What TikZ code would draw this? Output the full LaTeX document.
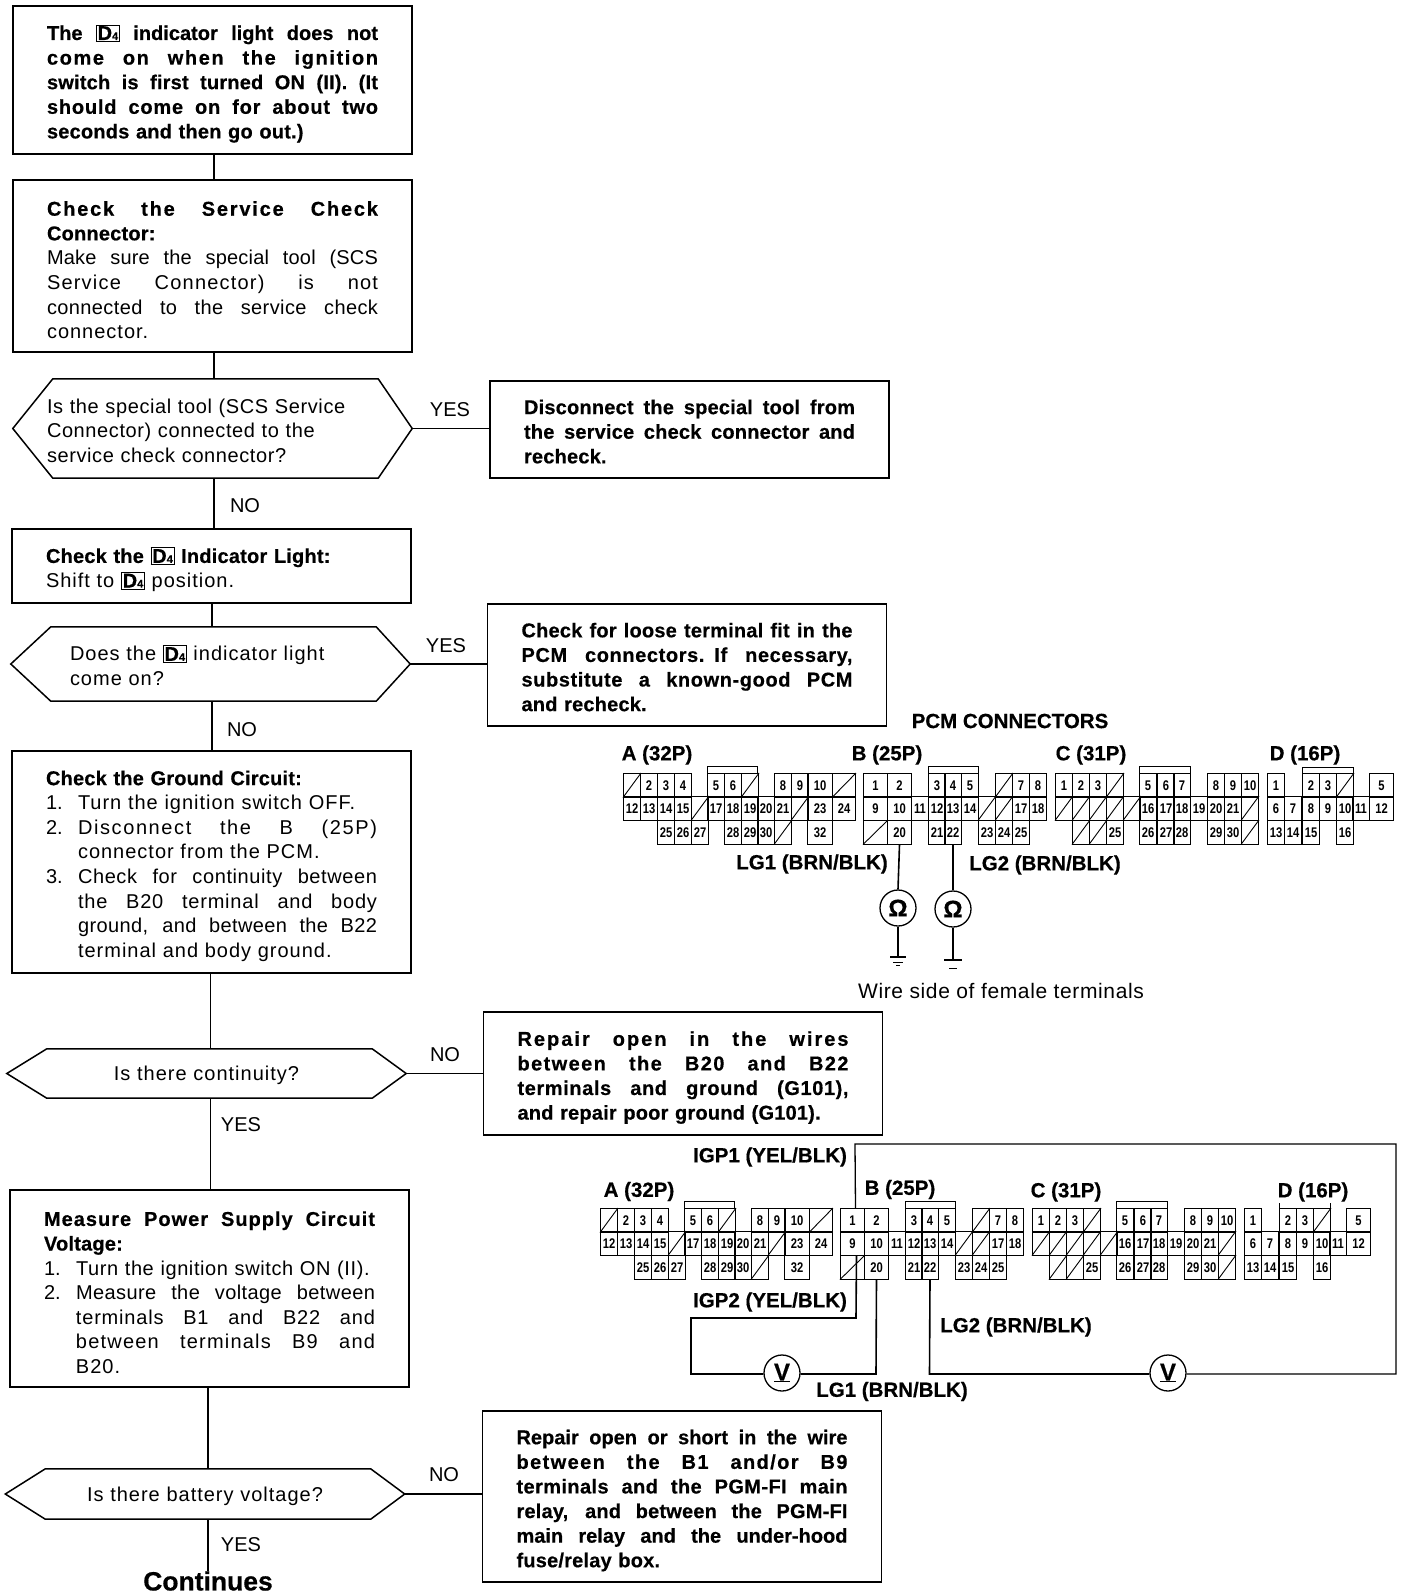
\documentclass[tikz,border=0pt]{standalone}
\usepackage{fontspec}
\setmainfont{Liberation Sans}[BoldFeatures={FakeBold=0.5}]
\newfontfamily\cellfont[FakeStretch=0.8]{Liberation Sans}
\newcommand\JL[2][0]{\hbox to\hsize{\addfontfeature{LetterSpace=#1}\spaceskip=.278em plus 1fill minus .12em\relax #2}}
\newcommand\JB[2][0]{\hbox to\hsize{\bfseries\addfontfeature{LetterSpace=#1}\spaceskip=.278em plus 1fill minus .12em\relax #2}}
\newcommand\NL[2][5]{\hbox{\addfontfeature{LetterSpace=#1}#2}}
\newcommand\NB[1]{\hbox{\bfseries\addfontfeature{LetterSpace=1}#1}}
\newcommand\JI[3][0]{\hbox to\hsize{\hbox to 32pt{#2\hfil}\addfontfeature{LetterSpace=#1}\spaceskip=.278em plus 1fill minus .12em\relax #3}}
\newcommand\NI[3][5]{\hbox{\hbox to 32pt{#2\hfil}\addfontfeature{LetterSpace=#1}#3}}
\newcommand\dfour{\smash{\setlength\fboxsep{1pt}\setlength\fboxrule{.7pt}\fbox{\bfseries D\fontsize{11}{11}\selectfont 4}}}
\newcommand\tshift{\vskip -2pt}
\newcommand\tshiftb{\vskip -6pt}
\tikzset{
 outl/.style={line width=1.5pt,line join=miter},
 fbx/.style={outl,draw,rectangle,inner xsep=34pt,inner ysep=0pt,text width=331pt,font=\fontsize{20}{24.6}\selectfont},
 dec/.style={rectangle,inner sep=0pt,minimum width=399pt,text width=331pt,font=\fontsize{20}{24.6}\selectfont},
 cell/.style={draw,line width=1pt,rectangle,inner sep=0pt,minimum height=23.5pt,anchor=north west,font=\cellfont\bfseries\fontsize{14}{14}\selectfont},
 hatch/.style={draw,line width=1pt,rectangle,inner sep=0pt,minimum height=23.5pt,anchor=north west},
 flow/.style={inner sep=0pt,font=\fontsize{20}{24}\selectfont},
 conn/.style={inner sep=0pt,font=\bfseries\fontsize{20.5}{24}\selectfont},
 meter/.style={draw,circle,line width=1.3pt,inner sep=0pt,minimum size=36pt,font=\bfseries\fontsize{24}{24}\selectfont},
 wire/.style={line width=1.6pt},
 key/.style={line width=1pt}
}
\newcommand\decision[1]{\draw[outl] (#1.west) -- ([xshift=40pt]#1.north west) -- ([xshift=-34pt]#1.north east) -- (#1.east) -- ([xshift=-34pt]#1.south east) -- ([xshift=40pt]#1.south west) -- cycle;}
\newcommand\cellrow[4]{\foreach \cx/\ct in {#4} {\node[cell,minimum width=#3] (#1\ct) at (\cx,#2) {\ct};}}
\newcommand\hatchrow[3]{\foreach \cx/\cw in {#3} {\node[hatch,minimum width=\cw] (#1h\cx r#2) at (\cx,#2) {}; \draw[line width=.9pt] (#1h\cx r#2.south west) -- (#1h\cx r#2.north east);}}
\newcommand\pcm[1]{%
 % connector A
 \hatchrow{#1a}{773}{623/17,741/17,832/23}
 \cellrow{#1a}{773}{17}{640/2,657/3,674/4,707/5,724/6,774/8,791/9}
 \cellrow{#1a}{773}{25}{807/10}
 \cellrow{#1a}{796}{17}{623/12,640/13,657/14,674/15,707/17,724/18,741/19,757/20,774/21}
 \hatchrow{#1a}{796}{691/17,791/17}
 \cellrow{#1a}{796}{25}{807/23}
 \cellrow{#1a}{796}{23}{832/24}
 \cellrow{#1a}{820}{17}{657/25,674/26,691/27,724/28,741/29,757/30}
 \hatchrow{#1a}{820}{774/17}
 \cellrow{#1a}{820}{25}{807/32}
 \draw[key] (707,773) -- (707,766) -- (757,766) -- (757,773);
 % connector B
 \cellrow{#1b}{773}{24}{863/1,887/2}
 \cellrow{#1b}{773}{17}{928/3,944/4,961/5,1012/7,1029/8}
 \hatchrow{#1b}{773}{995/17}
 \cellrow{#1b}{796}{24}{863/9,887/10}
 \cellrow{#1b}{796}{17}{911/11,928/12,944/13,961/14,1012/17,1029/18}
 \hatchrow{#1b}{796}{978/17,995/17}
 \hatchrow{#1b}{820}{863/24}
 \cellrow{#1b}{820}{24}{887/20}
 \cellrow{#1b}{820}{17}{928/21,944/22,978/23,995/24,1012/25}
 \draw[key] (928,773) -- (928,766) -- (978,766) -- (978,773);
 % connector C
 \cellrow{#1c}{773}{17}{1055/1,1072/2,1089/3,1139/5,1157/6,1173/7,1207/8,1224/9,1241/10}
 \hatchrow{#1c}{773}{1106/17}
 \hatchrow{#1c}{796}{1055/17,1072/17,1089/17,1106/17,1123/17,1241/17}
 \cellrow{#1c}{796}{17}{1139/16,1157/17,1173/18,1190/19,1207/20,1224/21}
 \hatchrow{#1c}{820}{1072/17,1089/17,1241/17}
 \cellrow{#1c}{820}{17}{1106/25,1139/26,1157/27,1173/28,1207/29,1224/30}
 \draw[key] (1139,773) -- (1139,766) -- (1190,766) -- (1190,773);
 % connector D
 \cellrow{#1d}{773}{17}{1267/1,1302/2,1319/3}
 \hatchrow{#1d}{773}{1336/17}
 \cellrow{#1d}{773}{24}{1369/5}
 \cellrow{#1d}{796}{17}{1267/6,1284/7,1302/8,1319/9,1336/10,1352/11}
 \cellrow{#1d}{796}{24}{1369/12}
 \cellrow{#1d}{820}{17}{1267/13,1284/14,1302/15,1336/16}
}
\begin{document}
\begin{tikzpicture}[x=1pt,y=-1pt]
\useasboundingbox (0,0) rectangle (1408,1596);
% ---------- left column
\node[fbx,minimum height=148pt] (b1) at (212.5,80) {\tshift
 \JB{The \dfour\ indicator light does not}
 \JB[8]{come on when the ignition}
 \JB[1]{switch is first turned ON (II). (It}
 \JB[4]{should come on for about two}
 \NB{seconds and then go out.)}};
\node[fbx,minimum height=172pt] (b2) at (212.5,266) {\tshift
 \JB[9]{Check the Service Check}
 \NB{Connector:}
 \JL[1]{Make sure the special tool (SCS}
 \JL[6]{Service Connector) is not}
 \JL[2]{connected to the service check}
 \NL{connector.}};
\node[dec,minimum height=99pt] (d1) at (212.5,428.5) {\tshiftb
 \NL[3]{Is the special tool (SCS Service}
 \NL[3]{Connector) connected to the}
 \NL[3]{service check connector?}};
\decision{d1}
\node[fbx,minimum height=97pt] (y1) at (689.5,429.5) {\tshiftb
 \JB[1]{Disconnect the special tool from}
 \JB[1]{the service check connector and}
 \NB{recheck.}};
\node[fbx,minimum height=74pt] (b3) at (211.5,566) {\tshift
 \NB{Check the \dfour\ Indicator Light:}
 \NL{Shift to \dfour\ position.}};
\node[dec,minimum height=74pt] (d2) at (210.5,664) {\tshiftb
 \NL{\hskip25pt Does the \dfour\ indicator light}
 \NL{\hskip25pt come on?}};
\decision{d2}
\node[fbx,minimum height=122pt] (y2) at (687,665) {\tshiftb
 \JB[1]{Check for loose terminal fit in the}
 \JB[3]{PCM connectors. If necessary,}
 \JB[3]{substitute a known-good PCM}
 \NB{and recheck.}};
\node[fbx,minimum height=222pt] (b4) at (211.5,862) {\tshift
 \NB{Check the Ground Circuit:}
 \NI{1.}{Turn the ignition switch OFF.}
 \JI[8]{2.}{Disconnect the B (25P)}
 \NI{}{connector from the PCM.}
 \JI[3]{3.}{Check for continuity between}
 \JI[4]{}{the B20 terminal and body}
 \JI[2]{}{ground, and between the B22}
 \NI{}{terminal and body ground.}};
\node[dec,minimum height=49pt] (d3) at (206.5,1073.5) {\tshiftb\centering\addfontfeature{LetterSpace=5}Is there continuity?\par};
\decision{d3}
\node[fbx,minimum height=123pt] (n1) at (683,1073.5) {\tshift
 \JB[10]{Repair open in the wires}
 \JB[7]{between the B20 and B22}
 \JB[3]{terminals and ground (G101),}
 \NB{and repair poor ground (G101).}};
\node[fbx,minimum height=197pt] (b5) at (209.5,1288.5) {\tshift
 \JB[5]{Measure Power Supply Circuit}
 \NB{Voltage:}
 \NI[3]{1.}{Turn the ignition switch ON (II).}
 \JI[2]{2.}{Measure the voltage between}
 \JI[4]{}{terminals B1 and B22 and}
 \JI[6]{}{between terminals B9 and}
 \NI{}{B20.}};
\node[dec,minimum height=50pt] (d4) at (205,1494) {\tshiftb\centering\addfontfeature{LetterSpace=5}Is there battery voltage?\par};
\decision{d4}
\node[fbx,minimum height=171pt] (n2) at (682,1496.5) {\tshift
 \JB{Repair open or short in the wire}
 \JB[7]{between the B1 and/or B9}
 \JB[2]{terminals and the PGM-FI main}
 \JB[1]{relay, and between the PGM-FI}
 \JB{main relay and the under-hood}
 \NB{fuse/relay box.}};
\node[inner sep=0pt,font=\bfseries\fontsize{26.5}{26.5}\selectfont] (cont) at (208,1581) {Continues};
% ---------- flow connectors
\draw[outl] ([xshift=1.5pt]b1.south) -- ([xshift=1.5pt]b2.north);
\draw[outl] ([xshift=1.5pt]b2.south) -- ([xshift=1.5pt]d1.north);
\draw[outl] ([xshift=1.5pt]d1.south) -- ([xshift=1.5pt]d1.south |- b3.north);
\draw[outl] ([xshift=.5pt]b3.south) -- ([xshift=.5pt]b3.south |- d2.north);
\draw[outl] ([xshift=.5pt]b3.south |- d2.south) -- ([xshift=.5pt]b4.north);
\draw[outl] ([xshift=4pt]b4.south -| d3.north) -- ([xshift=4pt]d3.north);
\draw[outl] ([xshift=4pt]d3.south) -- ([xshift=4pt]d3.south |- b5.north);
\draw[outl] ([xshift=3pt]b5.south -| d4.north) -- ([xshift=3pt]d4.north);
\draw[outl] ([xshift=3pt]d4.south) -- ([xshift=3pt]d4.south |- cont.north);
\draw[outl] (d1.east) -- (d1.east -| y1.west);
\draw[outl] (d2.east) -- (d2.east -| y2.west);
\draw[outl] (d3.east) -- (d3.east -| n1.west);
\draw[outl] (d4.east) -- (d4.east -| n2.west);
\node[flow] (ly1) at (450,410) {YES};
\node[flow] (ln1) at (245,506) {NO};
\node[flow] (ly2) at (446,646) {YES};
\node[flow] (ln2) at (242,730) {NO};
\node[flow] (ln3) at (445,1055) {NO};
\node[flow] (ly3) at (241,1125) {YES};
\node[flow] (ln4) at (444,1475) {NO};
\node[flow] (ly4) at (241,1545) {YES};
% ---------- upper PCM connectors
\pcm{u}
\draw[key] (1302,773) -- (1302,767) -- (1353,767) -- (1353,773);
\node[conn] (tu) at (1010,721) {PCM CONNECTORS};
\node[conn] (ua) at (657,755) {A (32P)};
\node[conn] (ub) at (887,755) {B (25P)};
\node[conn] (uc) at (1091,755) {C (31P)};
\node[conn] (ud) at (1305,755) {D (16P)};
\node[conn] (lg1) at (812,864) {LG1 (BRN/BLK)};
\node[conn] (lg2) at (1045,865) {LG2 (BRN/BLK)};
\node[meter] (om1) at (898,908) {Ω};
\node[meter] (om2) at (953,909) {Ω};
\coordinate (g1) at (898,957);
\coordinate (g2) at (953,960);
\draw[wire] (ub20.south) -- (om1.north);
\draw[wire] (ub22.south) -- (om2.north);
\draw[line width=1.2pt] (om1.south) -- (g1);
\draw[line width=1.2pt] (om2.south) -- (g2);
\draw[line width=1.2pt] ([xshift=-8pt]g1) -- ([xshift=8pt]g1);
\draw[line width=1pt] ([xshift=-5pt,yshift=-5pt]g1) -- ([xshift=5pt,yshift=-5pt]g1);
\draw[line width=1pt] ([xshift=-2pt,yshift=-8pt]g1) -- ([xshift=2pt,yshift=-8pt]g1);
\draw[line width=1.2pt] ([xshift=-9pt]g2) -- ([xshift=9pt]g2);
\draw[line width=1pt] ([xshift=-4pt,yshift=-8pt]g2) -- ([xshift=4pt,yshift=-8pt]g2);
\node[flow,font=\fontsize{21}{24}\selectfont\addfontfeature{LetterSpace=3}] (ws) at (1001,991) {Wire side of female terminals};
% ---------- lower PCM connectors
\begin{scope}[shift={(-23,435)}]
\pcm{l}
\draw[key] (1302,773) -- (1302,768);
\draw[key] (1353,773) -- (1353,768);
\end{scope}
\node[conn] (la) at (639,1191.5) {A (32P)};
\node[conn] (lb) at (900,1189.5) {B (25P)};
\node[conn] (lc) at (1066,1192) {C (31P)};
\node[conn] (ld) at (1313,1192) {D (16P)};
\node[conn] (igp1) at (770,1157) {IGP1 (YEL/BLK)};
\node[conn] (igp2) at (770,1302) {IGP2 (YEL/BLK)};
\node[conn] (llg1) at (892,1391.5) {LG1 (BRN/BLK)};
\node[conn] (llg2) at (1016,1327) {LG2 (BRN/BLK)};
\node[meter] (vm1) at (782,1373) {\underline{V}};
\node[meter] (vm2) at (1168,1373) {\underline{V}};
\coordinate (c1) at (855,1144);
\coordinate (c2) at (1396,1144);
\coordinate (c3) at (1396,1374);
\coordinate (c4) at (929.5,1374);
\coordinate (c5) at (856,1318);
\coordinate (c6) at (691,1318);
\coordinate (c7) at (691,1374);
\coordinate (c8) at (876,1374);
\draw[wire,line width=1.3pt] ([xshift=3pt]lb1.north) -- (c1) -- (c2) -- (c3) -- (vm2.east |- c3);
\draw[wire] (vm2.west |- c4) -- (c4) -- (lb22.south);
\draw[wire] ([xshift=4pt]lb9.south) -- (c5) -- (c6) -- (c7) -- (vm1.west |- c7);
\draw[wire] (vm1.east |- c8) -- (c8) -- (lb20.south);
\end{tikzpicture}
\end{document}
